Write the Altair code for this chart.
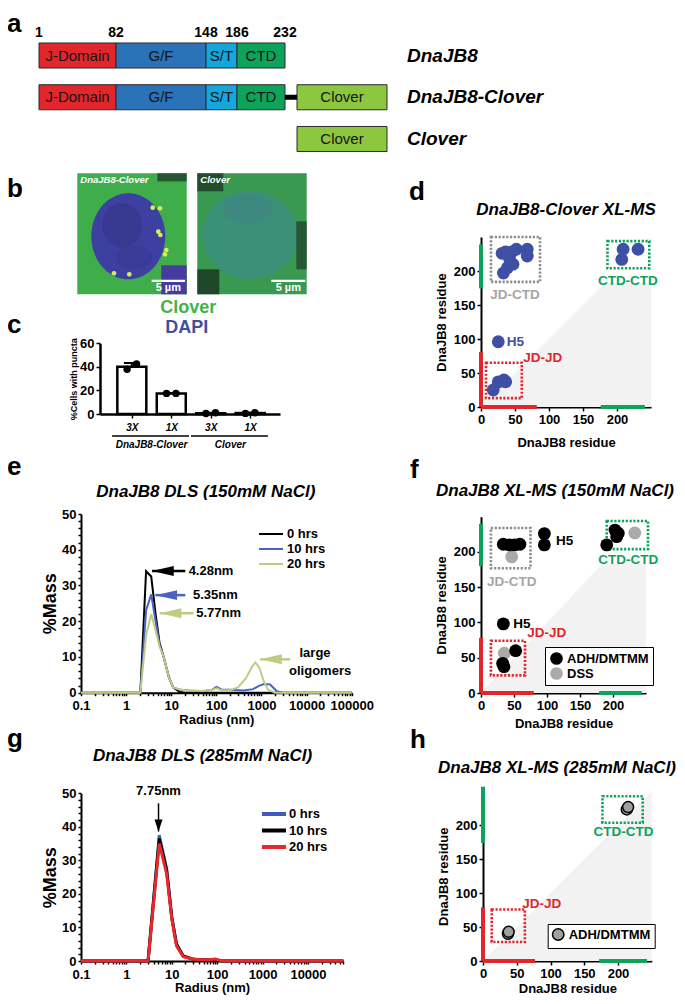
import altair as alt
import pandas as pd

FONT = "Liberation Sans"
W, H = 669, 988

# ---------------- values ----------------
# (a) DnaJB8 domain map (residue numbers)
dom_names = ["J-Domain", "G/F", "S/T", "CTD"]
dom_start = [1, 82, 148, 186]
dom_end = [82, 148, 186, 232]
boundary_res = [1, 82, 148, 186, 232]
construct_names = ["DnaJB8", "DnaJB8-Clover", "Clover"]
linker_res = [232, 242]
clover_res = [242, 480]

# (c) % cells with puncta
c_dose = ["3X", "1X", "3X", "1X"]
c_group = ["DnaJB8-Clover", "DnaJB8-Clover", "Clover", "Clover"]
c_mean = [40.0, 17.5, 0.7, 0.8]
c_rep1 = [38.0, 17.5, 0.4, 0.5]
c_rep2 = [42.5, 17.5, 1.0, 1.1]
c_err_hi = [43.3, 17.8, 1.0, 1.1]

# (d) DnaJB8-Clover XL-MS crosslinks (residue i, residue j)
d_x = [33, 39, 47, 42, 36, 31, 52, 68, 68, 45, 25.4, 18, 25.4, 33.8, 36.3, 209, 231, 207]
d_y = [197, 205, 210, 218, 228, 226, 232, 232, 222, 228, 96, 25, 37, 39.7, 37, 232, 232, 217]

# (e) DLS 150 mM NaCl: radius (nm) vs %mass
e_r_0h = [0.1, 2.07, 2.77, 3.6, 4.5, 5.5, 6.8, 8.8, 11, 15, 20, 100000]
e_m_0h = [0, 0, 34, 32.5, 22, 14, 10, 4.5, 1.5, 0.3, 0, 0]
e_r_10h = [0.1, 2.07, 2.77, 3.6, 4.5, 5.5, 6.8, 8.8, 11, 16, 25, 50, 80, 100, 130, 200,
           400, 650, 900, 1150, 1550, 2200, 3000, 100000]
e_m_10h = [0, 0, 23, 27.5, 20, 13.5, 10, 4.5, 1.5, 0.8, 0.6, 0.4, 0.8, 1.6, 0.9, 0.8,
           0.6, 1.0, 2.0, 2.4, 2.3, 0.4, 0, 0]
e_r_20h = [0.1, 2.07, 2.77, 3.6, 4.5, 5.5, 6.8, 8.8, 11, 16, 25, 50, 80, 100, 130, 200,
           300, 450, 600, 730, 900, 1100, 1400, 2000, 100000]
e_m_20h = [0, 0, 16, 22, 17.5, 13, 10, 4.5, 1.5, 0.8, 0.6, 0.5, 0.8, 1.2, 0.7, 0.7,
           1.5, 4.0, 7.0, 8.5, 7.0, 3.5, 0.8, 0, 0]
e_arrow_tip = [3.76, 4.45, 5.55, 935]
e_arrow_tail = [20.5, 20.5, 31.3, 4315]
e_arrow_y = [34.05, 27.3, 22.2, 9.33]
e_arrow_series = ["0 hrs", "10 hrs", "20 hrs", "20 hrs"]
e_peak_text = ["4.28nm", "5.35nm", "5.77nm"]
e_peak_x = [24.3, 30.3, 35.9]
e_olig_text = ["large", "oligomers"]
e_olig_x = [15400, 19950]
e_olig_y = [11.0, 6.2]

# (f) DnaJB8 XL-MS 150 mM NaCl
f_adh_x = [33.8, 43, 51, 59, 96, 96, 190.5, 203, 208, 205.6, 33.8, 32.8, 34.8, 52.5]
f_adh_y = [211, 210, 210, 211, 226, 210, 210, 231, 226.5, 221.7, 98, 42, 37.3, 60]
f_dss_x = [46.5, 233, 35.4]
f_dss_y = [193, 227, 56.3]

# (g) DLS 285 mM NaCl
g_r = [0.1, 3.0, 5.3, 7.7, 10, 12.7, 17.8, 30, 60, 90, 130, 60000]
g_m_0h = [0, 0, 37.5, 27.5, 13, 5, 1.5, 0.5, 0.3, 0.3, 0, 0]
g_m_10h = [0, 0, 36.5, 27, 13, 5, 1.5, 0.5, 0.3, 0.3, 0, 0]
g_m_20h = [0, 0, 35, 26, 12.5, 4.5, 1.3, 0.5, 0.3, 0.6, 0, 0]
g_peak_x = 5.1
g_peak_text = "7.75nm"

# (h) DnaJB8 XL-MS 285 mM NaCl
h_x = [213, 215, 37, 38]
h_y = [223.5, 227, 40, 43]

series = ["0 hrs", "10 hrs", "20 hrs"]

# ---------------- styles ----------------
RED = "#e1262c"
GREEN = "#0ea35a"
GF_BLUE = "#2a73b8"
ST_BLUE = "#14a6dd"
CLOVER = "#8dc63f"
XL_BLUE = "#3e4fa6"
E_BLUE = "#4a63c3"
E_GREEN = "#bdcc82"
LEFT_HEAD = "M0,0L2,-0.46L2,0.46Z"
DOWN_HEAD = "M0,0L-0.67,-2L0.67,-2Z"


def ellipse(rx, ry):
    a = rx / ry
    return f"M{-a},0A{a},1,0,1,1,{a},0A{a},1,0,1,1,{-a},0Z", (2 * ry) ** 2


def axis(orient, offset, values, title=None, label_expr=None, tick=4, tpad=4,
         lsize=13, tsize=13, dwidth=2, lpad=2, lstyle="normal"):
    kw = dict(orient=orient, offset=offset, values=values, grid=False, tickSize=tick,
              tickColor="black", tickWidth=1.5, domainColor="black", domainWidth=dwidth,
              labelFont=FONT, labelFontSize=lsize, labelFontWeight="bold",
              labelFontStyle=lstyle, labelColor="black", labelPadding=lpad,
              labelOverlap=False, labelFlush=False, titleFont=FONT, titleFontSize=tsize,
              titleFontWeight="bold", titleColor="black", titlePadding=tpad, title=title)
    if label_expr is not None:
        kw["labelExpr"] = label_expr
    return alt.Axis(**kw)


def txt(t, x, y, size, color="black", style="normal", weight="bold", align="center",
        baseline="middle"):
    return alt.Chart(pd.DataFrame({"k": [0]})).mark_text(
        font=FONT, fontSize=size, fontWeight=weight, fontStyle=style, color=color,
        align=align, baseline=baseline
    ).encode(x=alt.value(x), y=alt.value(y), text=alt.value(t))


layers = []

# ================= (a) =================
A_X = alt.Scale(domain=[1, 82, 148, 186, 232, 242, 480],
                range=[31, 108, 198, 229, 277, 289, 379], nice=False, zero=False)
A_Y = alt.Scale(type="band", domain=construct_names, range=[22.45, 156.05],
                paddingInner=0.4, paddingOuter=0.3)
rows_a = []
for row in construct_names[:2]:
    for n, s, e in zip(dom_names, dom_start, dom_end):
        rows_a.append(dict(row=row, name=n, start=s, end=e))
for row in construct_names[1:]:
    rows_a.append(dict(row=row, name="Clover", start=clover_res[0], end=clover_res[1]))
df_a = pd.DataFrame(rows_a)
A_FILL = alt.Scale(domain=dom_names + ["Clover"], range=[RED, GF_BLUE, ST_BLUE, GREEN, CLOVER])

a_bars = alt.Chart(df_a).mark_bar(stroke="#2b2b2b", strokeWidth=1).encode(
    x=alt.X("start:Q", scale=A_X, axis=None), x2="end:Q",
    y=alt.Y("row:N", scale=A_Y, axis=None),
    fill=alt.Fill("name:N", scale=A_FILL, legend=None))
a_text = alt.Chart(df_a).transform_calculate(mid="(datum.start + datum.end) / 2").mark_text(
    font=FONT, fontSize=15, color="#151515").encode(
    x=alt.X("mid:Q", scale=A_X, axis=None), y=alt.Y("row:N", scale=A_Y, axis=None),
    text="name:N")
a_link = alt.Chart(pd.DataFrame({"row": [construct_names[1]], "s": [linker_res[0]],
                                 "e": [linker_res[1]]})).mark_bar(height=5, color="black").encode(
    x=alt.X("s:Q", scale=A_X, axis=None), x2="e:Q", y=alt.Y("row:N", scale=A_Y, axis=None))
a_names = alt.Chart(pd.DataFrame({"row": construct_names})).mark_text(
    font=FONT, fontSize=19, fontWeight="bold", fontStyle="italic", align="left",
    color="black").encode(x=alt.value(399), y=alt.Y("row:N", scale=A_Y, axis=None),
                          text="row:N")
a_nums = alt.Chart(pd.DataFrame({"res": boundary_res})).mark_text(
    font=FONT, fontSize=14, fontWeight="bold", color="black").encode(
    x=alt.X("res:Q", scale=A_X, axis=None), y=alt.value(25), text="res:Q")
layers.append(alt.layer(a_bars, a_link, a_text, a_names, a_nums))

# ================= (b) micrographs (schematic) =================
B_X = alt.Scale(domain=[0, 229.4], range=[69.3, 298.7], nice=False, zero=False)
B_Y = alt.Scale(domain=[0, 121], range=[165.3, 286.3], nice=False, zero=False)
b_bg = pd.DataFrame({"x0": [0, 120], "x1": [109.4, 229.4], "y0": [0, 0], "y1": [121, 121],
                     "fill": ["#40ad4b", "#3a9950"], "op": [1, 1]})
blob_specs = [(51, 63, 37, 43, "#3d40a0", 1.0),
              (45, 52, 20, 22, "#333280", 0.5), (57, 84, 18, 12, "#35358a", 0.4),
              (172.7, 61.7, 48, 44, "#3d8b88", 0.7), (170, 35, 25, 15, "#3f7f8f", 0.35)]
b_blobs = pd.DataFrame([dict(x=x, y=y, path=ellipse(rx, ry)[0], size=ellipse(rx, ry)[1],
                             fill=f, op=o) for x, y, rx, ry, f, o in blob_specs])
b_fg = pd.DataFrame({"x0": [80, 84, 120, 120, 219, 74.4, 194],
                     "x1": [109.4, 109.4, 146, 142, 229.4, 107.7, 228],
                     "y0": [0, 92, 0, 96, 48, 106.4, 106.4],
                     "y1": [8, 121, 18, 121, 96, 108.8, 108.8],
                     "fill": ["#234b30", "#463c9e", "#1b3826", "#19321f", "#1c3a28", "white", "white"],
                     "op": [0.9, 1, 0.8, 0.8, 0.7, 1, 1]})
b_puncta = pd.DataFrame({"x": [75.4, 82.7, 81, 83, 87.7, 89, 52, 36.7],
                         "y": [34.4, 35, 58.4, 61.7, 81, 76.7, 101, 100]})


def rect_layer(df):
    return alt.Chart(df).mark_rect(strokeWidth=0).encode(
        x=alt.X("x0:Q", scale=B_X, axis=None), x2="x1:Q",
        y=alt.Y("y0:Q", scale=B_Y, axis=None), y2="y1:Q",
        fill=alt.Fill("fill:N", scale=None), opacity=alt.Opacity("op:Q", scale=None))


b_bl = alt.Chart(b_blobs).mark_point(filled=True, strokeWidth=0).encode(
    x=alt.X("x:Q", scale=B_X, axis=None), y=alt.Y("y:Q", scale=B_Y, axis=None),
    shape=alt.Shape("path:N", scale=None), size=alt.Size("size:Q", scale=None),
    fill=alt.Fill("fill:N", scale=None), opacity=alt.Opacity("op:Q", scale=None))
b_pu = alt.Chart(b_puncta).mark_circle(size=22, color="#d4ee5c", opacity=1).encode(
    x=alt.X("x:Q", scale=B_X, axis=None), y=alt.Y("y:Q", scale=B_Y, axis=None))
b_lab = alt.Chart(pd.DataFrame({"x": [3, 123], "y": [7, 7], "t": ["DnaJB8-Clover", "Clover"]})).mark_text(
    font=FONT, fontSize=9.5, fontWeight="bold", fontStyle="italic", color="white", align="left").encode(
    x=alt.X("x:Q", scale=B_X, axis=None), y=alt.Y("y:Q", scale=B_Y, axis=None), text="t:N")
b_sb = alt.Chart(pd.DataFrame({"x": [91, 211], "y": [114.5, 114.5], "t": ["5 µm", "5 µm"]})).mark_text(
    font=FONT, fontSize=11, fontWeight="bold", color="white").encode(
    x=alt.X("x:Q", scale=B_X, axis=None), y=alt.Y("y:Q", scale=B_Y, axis=None), text="t:N")
layers.append(alt.layer(rect_layer(b_bg), b_bl, rect_layer(b_fg), b_pu, b_lab, b_sb))

# ================= (c) =================
df_c = pd.DataFrame({"idx": [0, 1, 2, 3], "dose": c_dose, "group": c_group, "mean": c_mean,
                     "r1": c_rep1, "r2": c_rep2, "hi": c_err_hi})
grp = df_c.groupby("group", sort=False)["idx"].agg(["min", "max"]).reset_index()
grp["gs"] = grp["min"] - 0.5
grp["ge"] = grp["max"] + 0.45
grp["mid"] = (grp["min"] + grp["max"]) / 2
C_X = alt.Scale(domain=[-0.68, 3.63], range=[92, 272], nice=False, zero=False)
C_Y = alt.Scale(domain=[0, 60], range=[406, 335.3], nice=False, zero=False)
c_xax = axis("bottom", 406 - H, [0, 1, 2, 3], None, label_expr=f"{c_dose}[datum.value]",
             lsize=10, lpad=4, lstyle="italic", dwidth=2.5)
c_yax = axis("left", -92, [0, 20, 40, 60], "%Cells with puncta", tsize=9, tpad=1, dwidth=2.5)


def CX(f):
    return alt.X(f, scale=C_X, axis=c_xax)


def CY(f):
    return alt.Y(f, scale=C_Y, axis=c_yax)


c_bars = alt.Chart(df_c).transform_calculate(zero="0").mark_bar(
    width=29, fill="white", stroke="black", strokeWidth=2.5).encode(
    x=CX("idx:Q"), y=CY("mean:Q"), y2="zero:Q")
c_err = alt.Chart(df_c).mark_rule(strokeWidth=2, color="black").encode(
    x=CX("idx:Q"), y=CY("mean:Q"), y2="hi:Q")
c_cap = alt.Chart(df_c).transform_calculate(a="datum.idx - 0.2", b="datum.idx + 0.2").mark_rule(
    strokeWidth=2, color="black").encode(x=CX("a:Q"), x2="b:Q", y=CY("hi:Q"))
c_dots = alt.Chart(df_c).transform_fold(["r1", "r2"], as_=["rep", "val"]).transform_calculate(
    xj="datum.idx + (datum.rep == 'r1' ? -0.12 : 0.12)").mark_circle(
    size=55, color="black", opacity=1).encode(x=CX("xj:Q"), y=CY("val:Q"))
c_gline = alt.Chart(grp).mark_rule(strokeWidth=1.5, color="black").encode(
    x=CX("gs:Q"), x2="ge:Q", y=alt.value(428))
c_glab = alt.Chart(grp).mark_text(font=FONT, fontSize=10, fontWeight="bold", fontStyle="italic",
                                  color="black").encode(
    x=CX("mid:Q"), y=alt.value(437), text="group:N")
layers.append(alt.layer(c_bars, c_err, c_cap, c_dots, c_gline, c_glab))


# ================= XL-MS panels (d, f, h) =================
def xlms(SX, SY, x_bottom, y_left, xtpad, bars_x, bars_y, boxes, labels, point_fn, white):
    xax = axis("bottom", x_bottom - H, [0, 50, 100, 150, 200], "DnaJB8 residue", tpad=xtpad)
    yax = axis("left", -y_left, [0, 50, 100, 150, 200], "DnaJB8 residue", tpad=5)

    def PX(f):
        return alt.X(f, scale=SX, axis=xax)

    def PY(f):
        return alt.Y(f, scale=SY, axis=yax)

    out = []
    tri = alt.Chart(pd.DataFrame({"x": [0, 250], "y": [0, 250], "y0": [0, 0]})).mark_area(
        color="#f2f2f2").encode(x=PX("x:Q"), y=PY("y:Q"), y2="y0:Q")
    out.append(tri)
    if white:
        out.append(alt.Chart(pd.DataFrame({"x0": [178], "x1": [256], "y0": [183], "y1": [250]}))
                   .mark_rect(color="white").encode(x=PX("x0:Q"), x2="x1:Q", y=PY("y0:Q"), y2="y1:Q"))
    bx = pd.DataFrame(bars_x, columns=["s", "e", "col"])
    by = pd.DataFrame(bars_y, columns=["s", "e", "col"])
    out.append(alt.Chart(bx).transform_calculate(zero="0").mark_rule(strokeWidth=4).encode(
        x=PX("s:Q"), x2="e:Q", y=PY("zero:Q"), stroke=alt.Stroke("col:N", scale=None)))
    out.append(alt.Chart(by).transform_calculate(zero="0").mark_rule(strokeWidth=4).encode(
        y=PY("s:Q"), y2="e:Q", x=PX("zero:Q"), stroke=alt.Stroke("col:N", scale=None)))
    bxs = pd.DataFrame(boxes, columns=["x0", "x1", "y0", "y1", "col"])
    out.append(alt.Chart(bxs).mark_rect(fill="transparent", strokeWidth=2.6,
                                        strokeDash=[2.2, 1.6]).encode(
        x=PX("x0:Q"), x2="x1:Q", y=PY("y0:Q"), y2="y1:Q", stroke=alt.Stroke("col:N", scale=None)))
    out.append(point_fn(PX, PY))
    lab = pd.DataFrame(labels, columns=["t", "x", "y", "col", "al"])
    for al in ["center", "left"]:
        sub = lab[lab["al"] == al]
        if len(sub):
            out.append(alt.Chart(sub).mark_text(font=FONT, fontSize=13.5, fontWeight="bold",
                                                align=al).encode(
                x=PX("x:Q"), y=PY("y:Q"), text="t:N", color=alt.Color("col:N", scale=None)))
    return alt.layer(*out)


# (d)
D_X = alt.Scale(domain=[0, 250], range=[473, 643], nice=False, zero=False)
D_Y = alt.Scale(domain=[0, 250], range=[399, 229], nice=False, zero=False)
layers.append(xlms(
    D_X, D_Y, 399, 473, 10,
    [(0, 82, RED), (176, 241, GREEN)], [(0, 81, RED), (174.5, 239, GREEN)],
    [(7.4, 60, 13, 65, RED), (14.7, 86.8, 184, 250, "#8c8c8c"), (186, 247.5, 204, 244, GREEN)],
    [("JD-CTD", 50, 165, "#a6a6a6", "center"), ("CTD-CTD", 216, 185, GREEN, "center"),
     ("H5", 37.8, 96, XL_BLUE, "left"), ("JD-JD", 90.7, 71.6, RED, "center")],
    lambda PX, PY: alt.Chart(pd.DataFrame({"x": d_x, "y": d_y})).mark_circle(
        size=165, color=XL_BLUE, opacity=1).encode(x=PX("x:Q"), y=PY("y:Q")),
    True))

# (f)
F_X = alt.Scale(domain=[0, 250], range=[473, 638], nice=False, zero=False)
F_Y = alt.Scale(domain=[0, 250], range=[685, 508.7], nice=False, zero=False)
F_C = alt.Scale(domain=["ADH/DMTMM", "DSS"], range=["black", "#aaaaaa"])
df_f = pd.concat([pd.DataFrame({"x": f_dss_x, "y": f_dss_y, "xl": "DSS"}),
                  pd.DataFrame({"x": f_adh_x, "y": f_adh_y, "xl": "ADH/DMTMM"})])
f_leg = alt.Legend(orient="none", legendX=537, legendY=639, title=None, padding=4,
                   strokeColor="black", fillColor="white", symbolType="circle", symbolSize=160,
                   labelFont=FONT, labelFontSize=13, labelFontWeight="bold", labelColor="black",
                   labelOffset=3, rowPadding=0)
layers.append(xlms(
    F_X, F_Y, 685, 473, 5,
    [(0, 80, RED), (179, 243.5, GREEN)], [(0, 78, RED), (180, 240, GREEN)],
    [(15, 75, 177, 234, "#8c8c8c"), (15, 66.7, 25, 74, RED), (190.5, 253, 204, 244, GREEN)],
    [("JD-CTD", 46.5, 158, "#a6a6a6", "center"), ("CTD-CTD", 223, 189, GREEN, "center"),
     ("H5", 113.6, 215, "black", "left"), ("H5", 49, 98, "black", "left"),
     ("JD-JD", 99.5, 84.7, RED, "center")],
    lambda PX, PY: alt.Chart(df_f).mark_circle(size=165, opacity=1).encode(
        x=PX("x:Q"), y=PY("y:Q"), color=alt.Color("xl:N", scale=F_C, legend=f_leg)),
    True))

# (h)
H_X = alt.Scale(domain=[0, 250], range=[475, 643.75], nice=False, zero=False)
H_Y = alt.Scale(domain=[0, 250], range=[953, 783.5], nice=False, zero=False)
H_C = alt.Scale(domain=["ADH/DMTMM"], range=["#a0a0a0"])
h_leg = alt.Legend(orient="none", legendX=539.7, legendY=916, title=None, padding=4,
                   strokeColor="black", fillColor="white", symbolType="circle", symbolSize=130,
                   symbolStrokeColor="black", symbolStrokeWidth=1.5,
                   labelFont=FONT, labelFontSize=13, labelFontWeight="bold", labelColor="black",
                   labelOffset=4)
layers.append(xlms(
    H_X, H_Y, 953, 475, 2,
    [(0, 77, RED), (172, 243, GREEN)], [(0, 79, RED), (174, 257, GREEN)],
    [(12.9, 62, 28, 76, RED), (177, 236.6, 204, 243, GREEN)],
    [("JD-JD", 87, 84.6, RED, "center"), ("CTD-CTD", 208, 189.6, GREEN, "center")],
    lambda PX, PY: alt.Chart(pd.DataFrame({"x": h_x, "y": h_y, "xl": "ADH/DMTMM"})).mark_point(
        filled=True, size=120, stroke="black", strokeWidth=1.5, opacity=1).encode(
        x=PX("x:Q"), y=PY("y:Q"), color=alt.Color("xl:N", scale=H_C, legend=h_leg)),
    False))


# ================= DLS panels (e, g) =================
def log_ticks(lo_exp, hi):
    vals = []
    for k in range(lo_exp, 6):
        for m in range(1, 10):
            v = round(m * 10 ** k, 6)
            if v <= hi:
                vals.append(v)
    return vals


LOG_LABEL = ("abs(log(datum.value) / LN10 - round(log(datum.value) / LN10)) < 0.01 ? "
             "format(datum.value, '~g') : ''")
Y_LABEL = "datum.value % 10 == 0 ? datum.label : ''"

# (e)
E_X = alt.Scale(type="log", domain=[0.1, 100000], range=[73, 343.7], nice=False)
E_Y = alt.Scale(domain=[0, 50], range=[684.7, 506], nice=False, zero=False)
E_C = alt.Scale(domain=series, range=["black", E_BLUE, E_GREEN])
df_e = pd.concat([pd.DataFrame({"r": e_r_0h, "m": e_m_0h, "s": series[0]}),
                  pd.DataFrame({"r": e_r_10h, "m": e_m_10h, "s": series[1]}),
                  pd.DataFrame({"r": e_r_20h, "m": e_m_20h, "s": series[2]})])
e_xax = axis("bottom", 684.7 - H, log_ticks(-1, 100000), "Radius (nm)", label_expr=LOG_LABEL,
             tick=3, tpad=1, lpad=4)
e_yax = axis("left", -73, list(range(0, 51, 2)), "%Mass", label_expr=Y_LABEL, tick=3,
             tsize=18, tpad=2)


def EX(f):
    return alt.X(f, scale=E_X, axis=e_xax)


def EY(f):
    return alt.Y(f, scale=E_Y, axis=e_yax)


e_leg = alt.Legend(orient="none", legendX=256, legendY=519, title=None, padding=0,
                   symbolType="M-2,0H2", symbolSize=144, symbolStrokeWidth=2,
                   labelFont=FONT, labelFontSize=13, labelFontWeight="bold", labelColor="black",
                   labelOffset=9, rowPadding=1)
e_lines = alt.Chart(df_e).mark_line(strokeWidth=2).encode(
    x=EX("r:Q"), y=EY("m:Q"), color=alt.Color("s:N", scale=E_C, legend=e_leg), order="r:Q")
df_ea = pd.DataFrame({"tip": e_arrow_tip, "tail": e_arrow_tail, "y": e_arrow_y,
                      "s": e_arrow_series})
df_ea["col"] = df_ea["s"].map(dict(zip(series, ["black", E_BLUE, E_GREEN])))
e_shaft = alt.Chart(df_ea).mark_rule(strokeWidth=2.5).encode(
    x=EX("tip:Q"), x2="tail:Q", y=EY("y:Q"), stroke=alt.Stroke("col:N", scale=None))
e_head = alt.Chart(df_ea).mark_point(shape=LEFT_HEAD, size=470, filled=True, strokeWidth=0,
                                     opacity=1).encode(
    x=EX("tip:Q"), y=EY("y:Q"), fill=alt.Fill("col:N", scale=None))
e_plab = alt.Chart(pd.DataFrame({"x": e_peak_x, "y": e_arrow_y[:3], "t": e_peak_text})).mark_text(
    font=FONT, fontSize=13, fontWeight="bold", align="left", color="black").encode(
    x=EX("x:Q"), y=EY("y:Q"), text="t:N")
e_olab = alt.Chart(pd.DataFrame({"x": e_olig_x, "y": e_olig_y, "t": e_olig_text})).mark_text(
    font=FONT, fontSize=13, fontWeight="bold", color="black").encode(
    x=EX("x:Q"), y=EY("y:Q"), text="t:N")
layers.append(alt.layer(e_lines, e_shaft, e_head, e_plab, e_olab))

# (g)
G_BOTTOM = 953
G_X = alt.Scale(type="log", domain=[0.1, 60000], range=[73, 335.3], nice=False)
G_Y = alt.Scale(domain=[0, 50], range=[G_BOTTOM, 785.3], nice=False, zero=False)
G_C = alt.Scale(domain=series, range=["#3f5bbf", "black", "#e8282b"])
df_g = pd.concat([pd.DataFrame({"r": g_r, "m": g_m_0h, "s": series[0]}),
                  pd.DataFrame({"r": g_r, "m": g_m_10h, "s": series[1]}),
                  pd.DataFrame({"r": g_r, "m": g_m_20h, "s": series[2]})])
g_xax = axis("bottom", G_BOTTOM - H, log_ticks(-1, 60000), "Radius (nm)", label_expr=LOG_LABEL,
             tick=3, tpad=0, lpad=4)
g_yax = axis("left", -73, list(range(0, 51, 2)), "%Mass", label_expr=Y_LABEL, tick=3,
             tsize=18, tpad=2)


def GX(f):
    return alt.X(f, scale=G_X, axis=g_xax)


def GY(f):
    return alt.Y(f, scale=G_Y, axis=g_yax)


g_leg = alt.Legend(orient="none", legendX=258, legendY=798, title=None, padding=0,
                   symbolType="M-2,0H2", symbolSize=144, symbolStrokeWidth=4,
                   labelFont=FONT, labelFontSize=13, labelFontWeight="bold", labelColor="black",
                   labelOffset=7, rowPadding=0.5)
g_lines = alt.Chart(df_g).mark_line(strokeWidth=3).encode(
    x=GX("r:Q"), y=GY("m:Q"), color=alt.Color("s:N", scale=G_C, legend=g_leg), order="r:Q")
df_ga = pd.DataFrame({"x": [g_peak_x], "y0": [47.0], "y1": [38.6], "ly": [48.6], "t": [g_peak_text]})
g_shaft = alt.Chart(df_ga).mark_rule(strokeWidth=1.5, color="black").encode(
    x=GX("x:Q"), y=GY("y0:Q"), y2="y1:Q")
g_head = alt.Chart(df_ga).mark_point(shape=DOWN_HEAD, size=144, filled=True, strokeWidth=0,
                                     color="black", opacity=1).encode(x=GX("x:Q"), y=GY("y1:Q"))
g_lab = alt.Chart(df_ga).mark_text(font=FONT, fontSize=13, fontWeight="bold", color="black",
                                   baseline="bottom").encode(
    x=GX("x:Q"), y=GY("ly:Q"), text="t:N")
layers.append(alt.layer(g_lines, g_shaft, g_head, g_lab))

# ================= titles, legend text, panel letters =================
TITLE = dict(size=17, style="italic")
layers += [
    txt("DnaJB8-Clover XL-MS", 558, 201.5, **TITLE),
    txt("DnaJB8 DLS (150mM NaCl)", 197.8, 483.5, **TITLE),
    txt("DnaJB8 XL-MS (150mM NaCl)", 547, 482.5, **TITLE),
    txt("DnaJB8 DLS (285mM NaCl)", 194.5, 747.5, **TITLE),
    txt("DnaJB8 XL-MS (285mM NaCl)", 549, 760, **TITLE),
    txt("Clover", 180.3, 300, 18, color="#3db54a"),
    txt("DAPI", 178.7, 319.5, 18, color="#3f50a2"),
]
for letter, lx, ly in [("a", -1, 24), ("b", -1, 189), ("c", -1, 325), ("d", 401, 192),
                       ("e", -1, 467), ("f", 402, 470), ("g", -1, 739), ("h", 402, 740)]:
    layers.append(txt(letter, lx, ly, 26, align="left", baseline="alphabetic"))

chart = alt.layer(*layers).resolve_scale(
    x="independent", y="independent", color="independent", fill="independent",
    stroke="independent", opacity="independent", size="independent", shape="independent"
).properties(width=W, height=H, padding=0,
             autosize=alt.AutoSizeParams(type="none")).configure(font=FONT).configure_view(
    strokeWidth=0)

chart.save("out.html", embed_options={"renderer": "svg", "actions": False})
